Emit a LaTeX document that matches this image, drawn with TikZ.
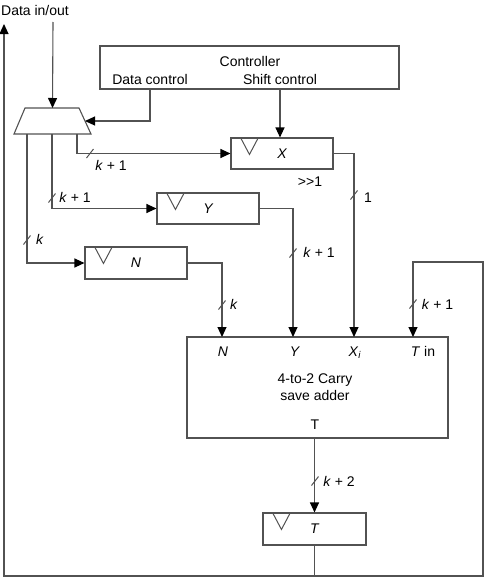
\documentclass[tikz,border=0pt]{standalone}
\usepackage{fontspec}
\setmainfont{Liberation Sans}
\usetikzlibrary{arrows.meta,positioning}

\newcommand{\lblsize}{\fontsize{14}{17}\selectfont}

\tikzset{
  wire/.style={draw=black!68, line width=1.1pt},
  arr/.style={wire, -{Triangle[length=10pt,width=9pt,color=black]}},
  box/.style={rectangle, draw=black!68, line width=1.1pt},
  reg/.style={box, minimum width=102pt, minimum height=31pt, font=\lblsize\itshape},
  busmark/.pic={\draw[wire, line width=1pt] (-3.5,4.5) -- (3.5,-4.5);},
}

\begin{document}
\begin{tikzpicture}[x=1pt, y=-1pt, every node/.style={font=\lblsize}]
    \useasboundingbox (0,0) rectangle (488,581);

    % Controller and multiplexer
    \node[box, minimum width=299pt, minimum height=43pt] (ctrl) at (249.5,67.5) {};
    \node[anchor=base] (ctrltitle) at (250,66) {Controller};
    \node[anchor=base] (dctl) at (150,84) {Data control};
    \node[anchor=base] (sctl) at (280,84) {Shift control};
    \draw[wire] (25,108) -- (79,108) -- (91,134) -- (14,134) -- cycle;
    \coordinate (muxin) at (52.5,108);
    \coordinate (muxctl) at (85,121);
    \coordinate (muxo1) at (77,134);
    \coordinate (muxo2) at (52,134);
    \coordinate (muxo3) at (27,134);
    \node[anchor=base] (dio) at (35,15) {Data in/out};
    \coordinate (dinpt) at (53,22);

    % Registers
    \node[reg] (regx) at (282,153.5) {X};
    \node[reg] (regy) at (208,208.5) {Y};
    \node[reg, minimum height=32pt] (regn) at (136,263) {N};
    \node[reg, minimum width=103pt, minimum height=32pt] (regt) at (314.5,529) {T};
    \foreach \r in {regx,regy,regn,regt}
        \draw[draw=black!68, line width=1pt] (\r.north west) ++(10,0) -- ++(9,17) -- ++(9,-17);
    \node[anchor=base] (shr) at (310,186) {{>}{>}1};

    % Carry save adder
    \node[box, minimum width=261pt, minimum height=101pt] (csa) at (317.5,387.5) {};
    \node[anchor=base] (csan) at (223,356) {\textit{N}};
    \node[anchor=base] (csay) at (295,356) {\textit{Y}};
    \node[anchor=base] (csax) at (355,356) {\textit{X}\textsubscript{\textit{i}}};
    \node[anchor=base] (csat) at (423,356) {\textit{T} in};
    \node[align=center] (csaname) at (315,387) {4-to-2 Carry\\save adder};
    \node[anchor=base] (csaout) at (315,429) {T};
    \coordinate (inn) at (222,337);
    \coordinate (iny) at (293,337);
    \coordinate (inx) at (354,337);
    \coordinate (intin) at (413,337);

    % Connections
    \draw[arr] (dinpt) -- (muxin);
    \draw[arr] (ctrl.south -| dctl) |- (muxctl);
    \draw[arr] (ctrl.south -| sctl) -- (sctl |- regx.north);
    \draw[arr] (muxo1) |- (regx.west);
    \draw[arr] (muxo2) |- (regy.west);
    \draw[arr] (muxo3) |- (regn.west);
    \draw[arr] (regx.east) -| (inx);
    \draw[arr] (regy.east) -| (iny);
    \draw[arr] (regn.east) -| (inn);
    \draw[arr] (csa.south -| regt) -- (regt.north);

    % Feedback from T
    \coordinate (bl) at (4,576);
    \coordinate (br) at (483,576);
    \coordinate (fbr) at (483,262);
    \coordinate (dout) at (4,24);
    \draw[wire] (regt.south) -- (regt.south |- bl);
    \draw[arr] (regt.south |- bl) -- (bl) -- (dout);
    \draw[arr] (regt.south |- bl) -- (br) -- (fbr) -| (intin);

    % Bus widths
    \pic at (90,153.5) {busmark};
    \node[anchor=base] (wx) at (111,170) {\textit{k} + 1};
    \pic at (52,198) {busmark};
    \node[anchor=base] (wy) at (75,202) {\textit{k} + 1};
    \pic at (27,240) {busmark};
    \node[anchor=base] (wn) at (40,244) {\textit{k}};
    \pic at (354,195) {busmark};
    \node[anchor=base] (wxi) at (368,202) {1};
    \pic at (293,253) {busmark};
    \node[anchor=base] (wyo) at (319,257) {\textit{k} + 1};
    \pic at (222,305) {busmark};
    \node[anchor=base] (wno) at (234,309) {\textit{k}};
    \pic at (413,304) {busmark};
    \node[anchor=base] (wtin) at (437.5,309) {\textit{k} + 1};
    \pic at (315,481) {busmark};
    \node[anchor=base] (wt) at (339,486) {\textit{k} + 2};
\end{tikzpicture}
\end{document}
